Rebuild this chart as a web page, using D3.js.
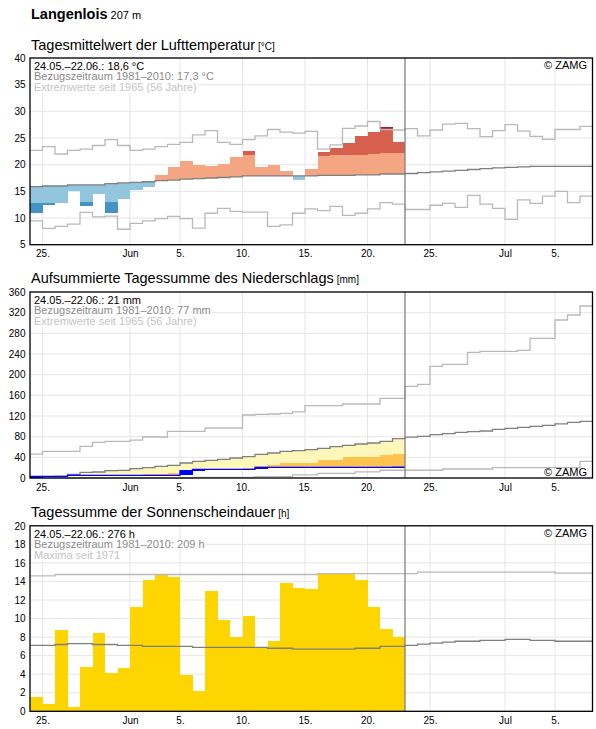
<!DOCTYPE html>
<html lang="de">
<head>
<meta charset="UTF-8">
<title>Langenlois</title>
<script src="https://d3js.org/d3.v7.min.js"></script>
<style>
  body { margin: 0; background: #fff; }
  svg { display: block; font-family: "Liberation Sans", Arial, sans-serif; }
  .bar { shape-rendering: crispEdges; }
</style>
</head>
<body>
<svg id="chart" width="596" height="729"></svg>
<script>
// days counted from 24.05. (index 0) to 07.07. (index 44); observed: 24.05.-22.06.
const nDays = 45, nObs = 30;
const tickDays = [1, 8, 12, 17, 22, 27, 32, 38, 42];
const tickLabels = ["25.", "Jun", "5.", "10.", "15.", "20.", "25.", "Jul", "5."];

// Lufttemperatur
const tempObs = [11.0, 12.4, 12.85, 15.1, 12.25, 14.5, 11.0, 13.6, 15.25, 15.8, 18.1, 19.55, 20.7, 19.95, 19.75,
                 20.1, 21.4, 22.55, 19.55, 19.95, 18.8, 17.1, 19.2, 22.4, 23.1, 24.05, 25.45, 26.1, 27.05, 24.25];
const tempNorm = [15.9, 16.0, 16.0, 16.2, 16.2, 16.2, 16.45, 16.6, 16.7, 16.8, 17.0, 17.1, 17.3, 17.4, 17.5,
                  17.6, 17.7, 17.9, 17.9, 17.9, 17.9, 17.9, 17.9, 18.0, 18.0, 18.0, 18.1, 18.1, 18.25, 18.25,
                  18.35, 18.5, 18.65, 18.8, 18.95, 19.1, 19.25, 19.4, 19.5, 19.6, 19.7, 19.7, 19.7, 19.7, 19.7];
const tempMax = [22.7, 23.4, 22.0, 22.7, 22.9, 23.6, 24.7, 23.6, 22.7, 22.9, 23.4, 23.8, 24.2, 25.6, 26.4,
                 24.2, 23.8, 24.7, 25.4, 26.6, 26.1, 25.9, 26.25, 22.9, 23.7, 26.8, 27.25, 28.1, 26.6, 26.5,
                 26.75, 25.4, 26.5, 27.6, 27.75, 26.75, 25.25, 26.4, 27.5, 26.3, 25.3, 24.75, 26.6, 26.6, 27.2];
const tempMin = [9.45, 8.05, 8.45, 8.85, 11.05, 10.2, 10.35, 7.9, 9.0, 9.45, 9.9, 10.3, 9.9, 8.1, 10.9,
                 11.8, 11.25, 11.1, 11.1, 8.45, 8.7, 10.9, 11.7, 11.4, 12.2, 10.5, 10.9, 11.7, 12.9, 12.6,
                 11.6, 11.6, 12.4, 12.75, 12.0, 14.25, 12.6, 11.8, 9.75, 13.4, 12.75, 14.1, 15.0, 12.9, 14.1];
const tempWarmLim = [20.0, 20.1, 20.1, 20.3, 20.3, 20.3, 20.5, 20.6, 20.7, 20.8, 21.0, 21.1, 21.3, 21.4, 21.5,
                     21.6, 21.7, 21.9, 21.8, 21.8, 21.8, 21.8, 21.7, 21.6, 21.8, 21.8, 21.8, 22.0, 22.1, 22.1];
const tempColdLim = [12.8, 12.8, 12.8, 12.9, 13.0, 13.0, 13.0, 13.1, 13.2, 13.3, 13.5, 13.6, 13.8, 13.9, 14.0,
                     14.1, 14.2, 14.3, 14.3, 14.3, 14.3, 14.3, 14.3, 14.3, 14.3, 14.4, 14.5, 14.5, 14.6, 14.6];

// Niederschlag (aufsummiert)
const precObs = [3.0, 3.0, 3.0, 5.2, 5.2, 5.2, 5.2, 5.2, 5.2, 5.2, 5.2, 5.2, 14.2, 16.8, 16.8,
                 16.8, 16.8, 16.8, 20.6, 20.6, 20.6, 20.6, 20.6, 20.6, 20.6, 20.6, 20.6, 20.6, 20.6, 20.8];
const precNorm = [1.3, 2.6, 3.2, 7.2, 11.0, 11.6, 14.2, 14.8, 18.0, 20.0, 22.6, 24.5, 29.0, 32.3, 34.2,
                  36.1, 38.7, 41.3, 45.8, 48.4, 51.6, 53.0, 54.8, 57.4, 60.6, 63.2, 65.8, 67.7, 71.0, 76.1,
                  79.3, 80.6, 83.9, 85.8, 88.4, 89.7, 91.0, 94.2, 96.1, 98.1, 100.1, 102.0, 104.6, 107.7, 109.7];
const precMax = [46.4, 51.6, 51.6, 51.6, 61.3, 69.0, 71.0, 71.0, 73.5, 79.4, 79.4, 90.3, 90.3, 90.3, 96.8,
                 96.8, 96.8, 121.9, 123.0, 123.9, 125.2, 128.0, 140.0, 140.0, 140.0, 143.2, 143.2, 143.2, 154.2, 154.2,
                 177.4, 181.3, 216.1, 220.0, 220.0, 243.2, 245.2, 245.2, 245.2, 247.1, 270.3, 270.3, 305.8, 315.5, 332.9];
const precMin = [0, 0, 0, 0, 0, 0, 0, 0, 0, 0, 0, 0, 0, 1.3, 1.3,
                 1.3, 1.3, 1.3, 2.6, 2.6, 2.6, 6.0, 6.0, 9.0, 9.0, 9.0, 12.0, 12.0, 15.0, 15.0,
                 15.0, 15.0, 15.0, 17.4, 17.4, 17.4, 17.4, 20.0, 20.0, 20.0, 20.0, 20.0, 20.0, 20.0, 32.3];
const precLim = [0.5, 1.0, 1.5, 2.5, 3.0, 3.5, 4.0, 4.5, 5.0, 8.7, 8.7, 9.3, 11.5, 13.5, 14.5,
                 15.5, 16.5, 19.0, 23.2, 24.5, 29.7, 29.7, 29.7, 34.8, 34.8, 40.0, 40.0, 41.3, 44.5, 47.1];

// Sonnenscheindauer
const sunObs = [1.55, 0.8, 8.8, 0.45, 4.8, 8.45, 4.15, 4.65, 11.25, 14.15, 14.7, 14.5, 3.95, 2.2, 12.95,
                9.85, 8.05, 10.25, 6.95, 7.6, 13.85, 13.3, 13.2, 14.75, 14.9, 14.8, 14.15, 11.25, 8.85, 8.05];
const sunNorm = [7.1, 7.1, 7.2, 7.3, 7.3, 7.2, 7.2, 7.1, 7.1, 7.0, 7.0, 7.0, 7.0, 6.9, 6.9,
                 6.9, 6.9, 6.9, 6.9, 6.8, 6.8, 6.7, 6.7, 6.7, 6.7, 6.7, 6.8, 6.8, 7.0, 7.0,
                 7.1, 7.25, 7.35, 7.45, 7.55, 7.55, 7.65, 7.65, 7.75, 7.75, 7.65, 7.65, 7.55, 7.55, 7.55];
const sunMax = [14.6, 14.6, 14.75, 14.75, 14.75, 14.75, 14.75, 14.75, 14.75, 14.75, 14.75, 14.75, 14.75, 14.75, 14.75,
                14.75, 14.75, 14.75, 14.75, 14.75, 14.75, 14.75, 14.75, 14.85, 14.85, 14.85, 14.85, 14.85, 14.85, 14.85,
                14.85, 15.0, 15.0, 15.0, 15.0, 15.0, 15.0, 15.0, 15.0, 15.0, 15.0, 15.0, 14.9, 14.9, 14.9];

const svg = d3.select("#chart");
const x = d3.scaleLinear().domain([0, nDays]).range([30, 592.5]);
const L = x(0), R = x(nDays);

const gridColor = "#e6e6e6", normColor = "#7f7f7f", extColor = "#b9b9b9";

function stepPts(vals) {
  const p = vals.map((v, i) => [i, v]);
  p.push([vals.length, vals[vals.length - 1]]);
  return p;
}

function makePanel(top, bottom, domain, step) {
  const y = d3.scaleLinear().domain(domain).range([bottom, top]);
  const g = svg.append("g");
  const yt = d3.range(domain[0], domain[1] + step / 2, step);

  g.selectAll(".hg").data(yt).join("line")
    .attr("x1", L).attr("x2", R).attr("y1", d => y(d)).attr("y2", d => y(d))
    .attr("stroke", gridColor).attr("stroke-width", 1);
  g.selectAll(".vg").data(tickDays).join("line")
    .attr("x1", d => x(d)).attr("x2", d => x(d)).attr("y1", top).attr("y2", bottom)
    .attr("stroke", gridColor).attr("stroke-width", 1);

  const ya = g.append("g").attr("transform", `translate(${L},0)`)
    .call(d3.axisLeft(y).tickValues(yt).tickSize(0).tickPadding(4.5));
  ya.select(".domain").remove();
  ya.selectAll("text").style("font-size", "10px").attr("fill", "#000");

  const xa = g.append("g").attr("transform", `translate(0,${bottom})`)
    .call(d3.axisBottom(x).tickValues(tickDays).tickFormat((d, i) => tickLabels[i]).tickSize(0).tickPadding(5.6));
  xa.select(".domain").remove();
  xa.selectAll("text").style("font-size", "10px").attr("fill", "#000");

  const marks = g.append("g");
  const over = g.append("g");

  over.append("line")
    .attr("x1", x(nObs)).attr("x2", x(nObs)).attr("y1", top).attr("y2", bottom)
    .attr("stroke", "#808080").attr("stroke-width", 1.3);
  over.append("rect")
    .attr("x", L).attr("y", top).attr("width", R - L).attr("height", bottom - top)
    .attr("fill", "none").attr("stroke", "#000").attr("stroke-width", 1.3);

  return {y, marks, over, top, bottom};
}

function stepLine(p, vals, color) {
  p.marks.append("path")
    .datum(stepPts(vals))
    .attr("d", d3.line().x(d => x(d[0])).y(d => p.y(d[1])).curve(d3.curveStepAfter))
    .attr("fill", "none").attr("stroke", color).attr("stroke-width", 1.3);
}

function segRects(p, data) {
  p.marks.append("g").selectAll("rect").data(data).join("rect")
    .attr("class", "bar")
    .attr("x", d => x(d.i)).attr("width", d => x(d.i + 1) - x(d.i))
    .attr("y", d => p.y(d.b)).attr("height", d => p.y(d.a) - p.y(d.b))
    .attr("fill", d => d.c);
}

function infoText(p, lines) {
  const colors = ["#000", "#8a8a8a", "#c4c4c4"];
  lines.forEach((t, i) => {
    const bg = p.over.append("rect").attr("fill", "#fff");
    const tx = p.over.append("text")
      .attr("x", 34).attr("y", p.top + 11.8 + i * 10.6)
      .style("font-size", "11px").attr("fill", colors[i]).text(t);
    const b = tx.node().getBBox();
    bg.attr("x", b.x - 1).attr("y", b.y + 1).attr("width", b.width + 2).attr("height", b.height - 1);
  });
}

function zamg(p, yPos) {
  p.over.append("text").attr("x", 587).attr("y", yPos)
    .attr("text-anchor", "end").style("font-size", "11px").attr("fill", "#000").text("© ZAMG");
}

function title(yPos, main, unit, bold) {
  const t = svg.append("text").attr("x", 31).attr("y", yPos).attr("fill", "#000");
  t.append("tspan").style("font-size", "14.5px").style("font-weight", bold ? "bold" : "normal").text(main);
  t.append("tspan").attr("dx", 3).style("font-size", bold ? "11px" : "10px").text(unit);
}

title(19, "Langenlois", "207 m", true);
title(50, "Tagesmittelwert der Lufttemperatur", "[°C]", false);
title(283, "Aufsummierte Tagessumme des Niederschlags", "[mm]", false);
title(517.3, "Tagessumme der Sonnenscheindauer", "[h]", false);

// ---- Panel 1: Temperatur
const p1 = makePanel(58, 244.7, [5, 40], 5);
const tSegs = [];
tempObs.forEach((t, i) => {
  const n = tempNorm[i];
  if (t >= n) {
    tSegs.push({i, a: n, b: Math.min(t, tempWarmLim[i]), c: "#f4a582"});
    if (t > tempWarmLim[i]) tSegs.push({i, a: tempWarmLim[i], b: Math.min(t, tempMax[i]), c: "#d6604d"});
    if (t > tempMax[i]) tSegs.push({i, a: tempMax[i], b: t, c: "#b2182b"});
  } else {
    tSegs.push({i, a: Math.max(t, tempColdLim[i]), b: n, c: "#92c5de"});
    if (t < tempColdLim[i]) tSegs.push({i, a: Math.max(t, tempMin[i]), b: tempColdLim[i], c: "#4393c3"});
    if (t < tempMin[i]) tSegs.push({i, a: t, b: tempMin[i], c: "#2166ac"});
  }
});
segRects(p1, tSegs);
stepLine(p1, tempMax, extColor);
stepLine(p1, tempMin, extColor);
stepLine(p1, tempNorm, normColor);
infoText(p1, ["24.05.–22.06.: 18,6 °C", "Bezugszeitraum 1981–2010: 17,3 °C", "Extremwerte seit 1965 (56 Jahre)"]);
zamg(p1, 68.5);

// ---- Panel 2: Niederschlag
const p2 = makePanel(292, 478, [0, 360], 40);
const pSegs = [];
precObs.forEach((o, i) => {
  const n = precNorm[i];
  if (o < n) {
    pSegs.push({i, a: Math.max(o, precLim[i]), b: n, c: "#fff6b9"});
    if (o < precLim[i]) pSegs.push({i, a: o, b: precLim[i], c: "#fec24f"});
  }
});
segRects(p2, pSegs);
stepLine(p2, precMax, extColor);
stepLine(p2, precMin, extColor);
stepLine(p2, precNorm, normColor);
const incr = precObs.map((o, i) => ({i, a: i ? precObs[i - 1] : 0, b: o, c: "#0000ff"})).filter(d => d.b > d.a);
segRects(p2, incr);
stepLine(p2, precObs, "#0000ff");
infoText(p2, ["24.05.–22.06.: 21 mm", "Bezugszeitraum 1981–2010: 77 mm", "Extremwerte seit 1965 (56 Jahre)"]);
zamg(p2, 476);

// ---- Panel 3: Sonnenschein
const p3 = makePanel(525.8, 711.3, [0, 20], 2);
segRects(p3, sunObs.map((v, i) => ({i, a: 0, b: v, c: "#ffd500"})));
stepLine(p3, sunMax, extColor);
stepLine(p3, sunNorm, normColor);
infoText(p3, ["24.05.–22.06.: 276 h", "Bezugszeitraum 1981–2010: 209 h", "Maxima seit 1971"]);
zamg(p3, 536.5);
</script>
</body>
</html>
